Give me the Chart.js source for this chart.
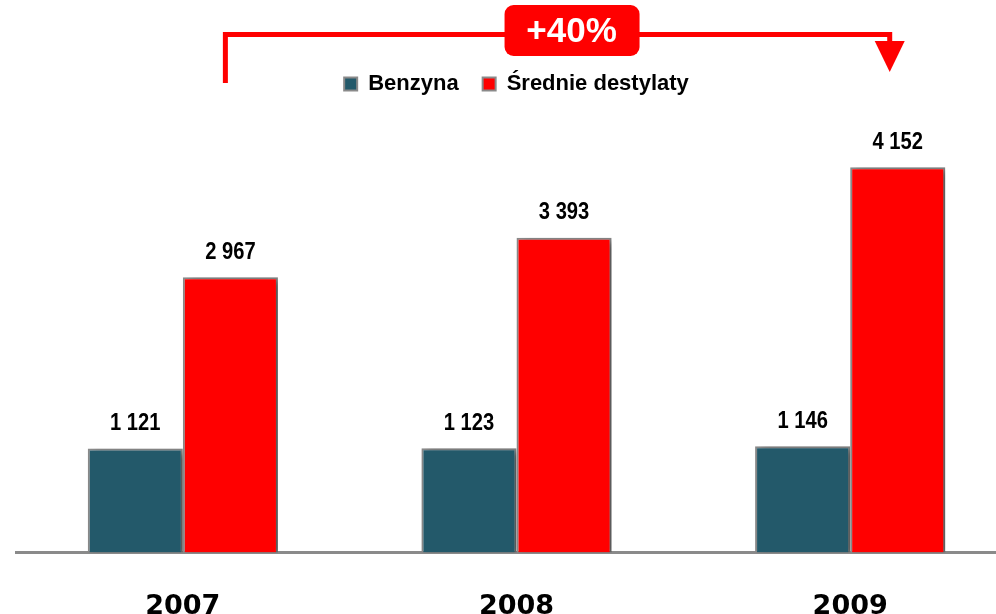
<!DOCTYPE html>
<html>
<head>
<meta charset="utf-8">
<script src="https://cdn.jsdelivr.net/npm/chart.js@4"></script>
<style>
  html, body { margin: 0; padding: 0; background: #fff; overflow: hidden; }
  #wrap { position: relative; width: 1040px; height: 670px; }
</style>
</head>
<body>
<div id="wrap"><canvas id="chart"></canvas></div>
<script>
const years = ['2007', '2008', '2009'];
const benzyna = [1121, 1123, 1146];
const srednie = [2967, 3393, 4152];
const growthLabel = '+40%';

function fmt(n) {
  return String(n).replace(/\B(?=(\d{3})+(?!\d))/g, ' ');
}

// cien pod slupkami
const shadowPlugin = {
  id: 'barShadow',
  beforeDatasetsDraw(chart) {
    const ctx = chart.ctx;
    ctx.save();
    ctx.shadowColor = 'rgba(0,0,0,0.4)';
    ctx.shadowBlur = 7;
    ctx.shadowOffsetX = 5;
    ctx.shadowOffsetY = 2;
  },
  afterDatasetsDraw(chart) {
    chart.ctx.restore();
  }
};

// wartosci nad slupkami (waska czcionka - skalowanie w poziomie)
const valueLabels = {
  id: 'valueLabels',
  afterDatasetsDraw(chart) {
    const ctx = chart.ctx;
    const sx = 0.84;
    ctx.save();
    ctx.fillStyle = '#000';
    ctx.font = "bold 24px 'Liberation Sans', Arial, sans-serif";
    ctx.textAlign = 'center';
    ctx.textBaseline = 'middle';
    chart.data.datasets.forEach((ds, i) => {
      chart.getDatasetMeta(i).data.forEach((bar, j) => {
        ctx.save();
        ctx.translate(bar.x, bar.y - 25);
        ctx.scale(sx, 1);
        ctx.fillText(fmt(ds.data[j]), 0, 0);
        ctx.restore();
      });
    });
    ctx.restore();
  }
};

// strzalka +40%
const growthArrow = {
  id: 'growthArrow',
  afterDraw(chart) {
    const ctx = chart.ctx;
    const bars = chart.getDatasetMeta(1).data;
    const x1 = bars[0].x - 5;
    const x2 = bars[bars.length - 1].x - 8;
    const yTop = 34.5, yLeft = 83, yTip = 72;
    ctx.save();
    ctx.strokeStyle = '#ff0000';
    ctx.fillStyle = '#ff0000';
    ctx.lineWidth = 5;
    ctx.beginPath();
    ctx.moveTo(x1, yLeft);
    ctx.lineTo(x1, yTop);
    ctx.lineTo(x2, yTop);
    ctx.lineTo(x2, yTip - 28);
    ctx.stroke();
    ctx.beginPath();
    ctx.moveTo(x2 - 15, yTip - 31);
    ctx.lineTo(x2 + 15, yTip - 31);
    ctx.lineTo(x2, yTip);
    ctx.closePath();
    ctx.fill();
    // plakietka
    const cx = (x1 + x2) / 2 + 14;
    ctx.beginPath();
    ctx.roundRect(cx - 67, 5, 135, 51, 9);
    ctx.fill();
    ctx.fillStyle = '#fff';
    ctx.font = "bold 35px 'Liberation Sans', Arial, sans-serif";
    ctx.textAlign = 'center';
    ctx.textBaseline = 'middle';
    ctx.fillText(growthLabel, cx, 32);
    ctx.restore();
  }
};

new Chart(document.getElementById('chart'), {
  type: 'bar',
  data: {
    labels: years,
    datasets: [
      {
        label: 'Benzyna',
        data: benzyna,
        backgroundColor: '#23596a',
        borderColor: '#8a8a8a',
        borderWidth: 2
      },
      {
        label: 'Średnie destylaty',
        data: srednie,
        backgroundColor: '#ff0000',
        borderColor: '#8a8a8a',
        borderWidth: 2
      }
    ]
  },
  options: {
    responsive: true,
    maintainAspectRatio: false,
    animation: false,
    categoryPercentage: 0.57,
    barPercentage: 1.0,
    layout: { padding: { left: 16, right: 23, top: 49, bottom: 17 } },
    plugins: {
      legend: {
        display: true,
        position: 'top',
        labels: {
          boxWidth: 13,
          boxHeight: 13,
          padding: 24,
          color: '#000',
          font: { family: "'Liberation Sans', Arial, sans-serif", size: 22, weight: 'bold' }
        }
      },
      tooltip: { enabled: false }
    },
    scales: {
      x: {
        grid: { display: false },
        border: { display: true, color: '#8a8a8a', width: 3 },
        ticks: {
          color: '#000',
          padding: 30,
          font: { family: "'DejaVu Sans', sans-serif", size: 27, weight: 'bold' }
        }
      },
      y: {
        display: false,
        min: 0,
        max: 4822
      }
    }
  },
  plugins: [shadowPlugin, valueLabels, growthArrow]
});
</script>
</body>
</html>
